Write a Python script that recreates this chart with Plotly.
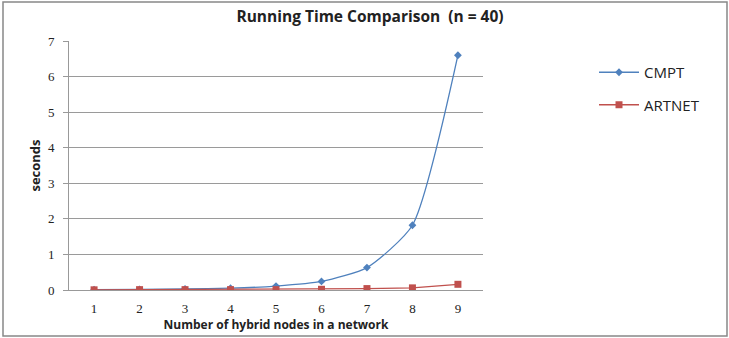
import plotly.graph_objects as go

nodes = [1, 2, 3, 4, 5, 6, 7, 8, 9]
cmpt = [0.01, 0.02, 0.03, 0.05, 0.11, 0.24, 0.63, 1.82, 6.6]
artnet = [0.005, 0.01, 0.01, 0.01, 0.01, 0.02, 0.04, 0.06, 0.16]
y_ticks = [0, 1, 2, 3, 4, 5, 6, 7]

x_cat = [str(n) for n in nodes]

PL, PR, PT, PB = 69, 483, 41, 290
PW, PH = PR - PL, PB - PT

fig = go.Figure()
fig.add_trace(go.Scatter(
    x=x_cat, y=cmpt, name="CMPT", mode="lines+markers", legendgroup="a",
    line=dict(color="#4F81BD", width=1.3, shape="spline", smoothing=0.6),
    marker=dict(symbol="diamond", size=6, color="#4F81BD"),
))
fig.add_trace(go.Scatter(
    x=x_cat, y=artnet, name="ARTNET", mode="lines+markers", legendgroup="b",
    line=dict(color="#C0504D", width=1.3),
    marker=dict(symbol="square", size=7, color="#C0504D"),
))

fig.update_layout(
    width=729, height=338,
    margin=dict(l=PL, r=729 - PR, t=PT, b=338 - PB),
    paper_bgcolor="white", plot_bgcolor="white",
    title=dict(text="<b>Running Time Comparison  (n = 40)</b>", x=370 / 729, xanchor="center",
               y=1 - 17 / 338, yanchor="middle",
               font=dict(family="Open Sans", size=15.5, color="#222222")),
    font=dict(family="Liberation Serif", size=13, color="#222222"),
    legend=dict(x=(594 - PL) / PW, y=(PB - 56) / PH, xanchor="left", yanchor="top",
                font=dict(family="Open Sans", size=15, color="#222222"),
                tracegroupgap=10, itemwidth=40, bgcolor="rgba(0,0,0,0)"),
    xaxis=dict(type="category", showgrid=False, showline=True, linecolor="#999999",
               linewidth=1, ticks="", zeroline=False, ticklabelstandoff=6, automargin=False,
               title=dict(text="<b>Number of hybrid nodes in a network</b>", standoff=4,
                          font=dict(family="Open Sans", size=12, color="#222222"))),
    yaxis=dict(range=[0, 7], tickvals=y_ticks, showgrid=True, gridcolor="#9a9a9a", gridwidth=1,
               showline=True, linecolor="#999999", linewidth=1, ticks="outside", ticklen=5,
               tickcolor="#999999", zeroline=False, ticklabelstandoff=6, automargin=False,
               title=dict(text="<b>seconds</b>", standoff=4,
                          font=dict(family="Open Sans", size=13, color="#222222"))),
    shapes=[dict(type="rect", xref="paper", yref="paper",
                 x0=(3 - PL) / PW, x1=(727 - PL) / PW, y0=(PB - 336) / PH, y1=(PB - 2) / PH,
                 line=dict(color="#888888", width=1.5), fillcolor="rgba(0,0,0,0)", layer="below")],
)

fig.write_html("out.html", config={"displayModeBar": False},
               post_script="document.body.style.margin='0';")
